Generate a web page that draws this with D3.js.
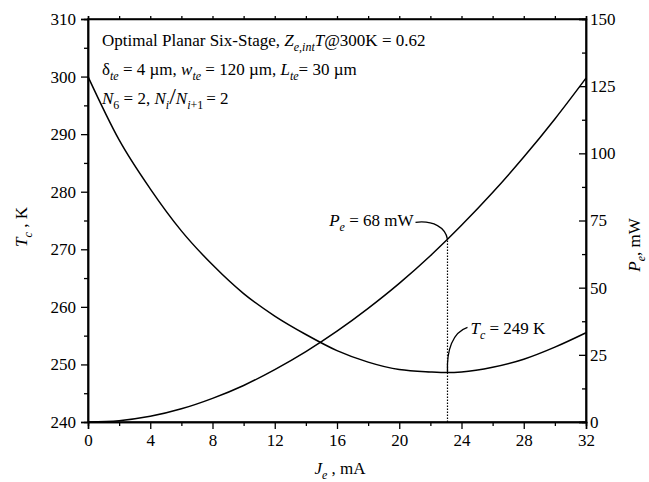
<!DOCTYPE html>
<html><head><meta charset="utf-8">
<script src="https://cdn.jsdelivr.net/npm/d3@7"></script>
<style>body{margin:0;background:#fff}svg{display:block}</style>
</head><body><svg id="c" width="649" height="482"></svg>
<script>
const J  = [0,2,4,6,8,10,12,14,16,18,20,22,23.1,24,26,28,30,32];
const Tc = [300,289.0,280.5,273.2,267.3,262.3,258.4,255.2,252.4,250.4,249.1,248.7,248.6,248.7,249.5,250.9,253.0,255.5];
const Pe = [0,0.5,2.1,4.9,8.8,13.6,19.5,26.2,33.8,42.3,51.6,61.9,68,73.2,85.4,98.6,112.8,128];
const xTicks = [0,4,8,12,16,20,24,28,32];
const tTicks = [240,250,260,270,280,290,300,310];
const pTicks = [0,25,50,75,100,125,150];
const Jopt = 23.1, Popt = 68, Topt = 248.6;

const FONT = "'Liberation Serif','Times New Roman',Times,Tinos,'Nimbus Roman','FreeSerif','DejaVu Serif','Noto Serif',serif";
const svg = d3.select("#c").style("font-family",FONT);
const x = d3.scaleLinear().domain([0,32]).range([88,586]);
const yT = d3.scaleLinear().domain([240,310]).range([422,19]);
const yP = d3.scaleLinear().domain([0,150]).range([422,19]);
const fs = 17;

svg.append("rect").attr("x",x(0)).attr("y",yT(310)).attr("width",x(32)-x(0)).attr("height",yT(240)-yT(310))
  .attr("fill","none").attr("stroke","#000").attr("stroke-width",1.5);

svg.append("g").attr("transform",`translate(0,${yT(240)})`)
  .call(d3.axisBottom(x).tickValues(xTicks).tickSize(7).tickPadding(5).tickFormat(d3.format("d")));
svg.append("g").attr("transform",`translate(0,${yT(240)})`)
  .call(d3.axisBottom(x).tickValues(d3.range(2,32,4)).tickSize(4).tickFormat(""));
svg.append("g").attr("transform",`translate(0,${yT(310)})`)
  .call(d3.axisTop(x).tickValues(d3.range(0,33,2)).tickSize(3).tickFormat(""));
svg.append("g").attr("transform",`translate(${x(0)},0)`)
  .call(d3.axisLeft(yT).tickValues(tTicks).tickSize(7).tickPadding(5).tickFormat(d3.format("d")));
svg.append("g").attr("transform",`translate(${x(0)},0)`)
  .call(d3.axisLeft(yT).tickValues(d3.range(245,310,10)).tickSize(4).tickFormat(""));
const gR = svg.append("g").attr("transform",`translate(${x(32)},0)`)
  .call(d3.axisRight(yP).tickValues(pTicks).tickSize(-7).tickPadding(5).tickFormat(d3.format("d")));
gR.selectAll(".tick text").attr("x",4);
svg.append("g").attr("transform",`translate(${x(32)},0)`)
  .call(d3.axisRight(yP).tickValues(d3.range(12.5,150,25)).tickSize(-4).tickFormat(""));

svg.selectAll("g").attr("font-family",null).attr("font-size",null);
svg.selectAll(".domain").attr("stroke","#000").attr("stroke-width",1.5);
svg.selectAll(".tick line").attr("stroke","#000").attr("stroke-width",1.3);
svg.selectAll(".tick text").attr("font-size",fs).style("font-family",FONT).attr("fill","#000");

const data = J.map((j,i)=>({j,t:Tc[i],p:Pe[i]}));
svg.append("path").datum(data).attr("fill","none").attr("stroke","#000").attr("stroke-width",1.5)
  .attr("d",d3.line().x(d=>x(d.j)).y(d=>yT(d.t)).curve(d3.curveMonotoneX));
svg.append("path").datum(data).attr("fill","none").attr("stroke","#000").attr("stroke-width",1.5)
  .attr("d",d3.line().x(d=>x(d.j)).y(d=>yP(d.p)).curve(d3.curveMonotoneX));

svg.append("line").attr("x1",x(Jopt)).attr("x2",x(Jopt)).attr("y1",yT(240)).attr("y2",yP(Popt))
  .attr("stroke","#000").attr("stroke-width",1.2).attr("stroke-dasharray","1.5,1.5");

const px = x(Jopt), py = yP(Popt), ty = yT(Topt);
svg.append("path").attr("fill","none").attr("stroke","#000").attr("stroke-width",1.3)
  .attr("d",`M${px-32},${py-17} C${px-14},${py-19} ${px-2},${py-12} ${px},${py}`);
svg.append("path").attr("fill","none").attr("stroke","#000").attr("stroke-width",1.3)
  .attr("d",`M${px},${ty} C${px-1},${ty-22} ${px+5},${ty-40} ${px+20},${ty-45}`);

function rich(parent, xx, yy, parts, anchor){
  const t = parent.append("text").attr("x",xx).attr("y",yy).attr("font-size",fs).style("font-family",FONT).attr("fill","#000");
  if(anchor) t.attr("text-anchor",anchor);
  parts.forEach(p=>{
    const s = t.append("tspan").text(p.t);
    if(p.i) s.attr("font-style","italic");
    if(p.sub){ s.attr("font-size",12).attr("dy",5); }
    if(p.up){ s.attr("dy",-5); }
    if(p.fs) s.attr("font-size",p.fs);
  });
  return t;
}
rich(svg, px-34, py-13, [{t:"P",i:1},{t:"e",i:1,sub:1},{t:" = 68 mW",up:1}], "end");
rich(svg, px+23, ty-38, [{t:"T",i:1},{t:"c",i:1,sub:1},{t:" = 249 K",up:1}]);

rich(svg, 102, 46, [{t:"Optimal Planar Six-Stage, "},{t:"Z",i:1},{t:"e,int",i:1,sub:1},{t:"T",i:1,up:1},{t:"@300K = 0.62"}]);
rich(svg, 102, 75, [{t:"δ"},{t:"te",i:1,sub:1},{t:" = 4 µm, ",up:1},{t:"w",i:1},{t:"te",i:1,sub:1},{t:" = 120 µm, ",up:1},{t:"L",i:1},{t:"te",i:1,sub:1},{t:"= 30 µm",up:1}]);
rich(svg, 102, 104, [{t:"N",i:1},{t:"6",sub:1},{t:" = 2, ",up:1},{t:"N",i:1},{t:"i",i:1,sub:1},{t:"/",up:1,fs:24},{t:"N",i:1},{t:"i",i:1,sub:1},{t:"+1 ",fs:12},{t:"= 2",up:1}]);

const gl = svg.append("g").attr("transform","translate(27,227) rotate(-90)");
rich(gl, 0, 0, [{t:"T",i:1},{t:"c",i:1,sub:1},{t:" , K",up:1}], "middle");
const gr = svg.append("g").attr("transform","translate(640,245) rotate(-90)");
rich(gr, 0, 0, [{t:"P",i:1},{t:"e",i:1,sub:1},{t:", mW",up:1}], "middle");
rich(svg, 340, 474, [{t:"J",i:1},{t:"e",i:1,sub:1},{t:" , mA",up:1}], "middle");
</script></body></html>
